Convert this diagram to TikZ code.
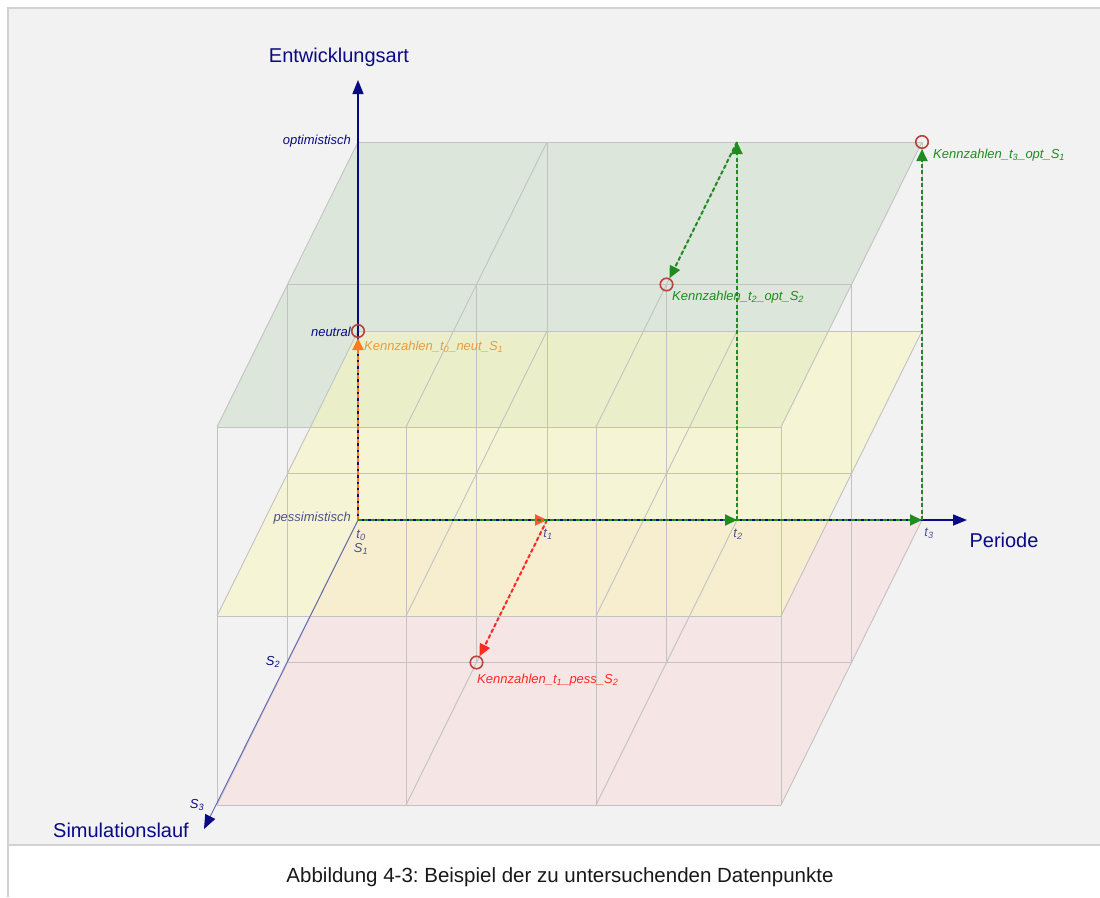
\documentclass[tikz,border=0pt]{standalone}
\usepackage{fontspec}
\setmainfont{Liberation Sans}
\frenchspacing
\usetikzlibrary{arrows.meta}
\definecolor{panelgray}{HTML}{F2F2F2}
\definecolor{framegray}{HTML}{D2D2D2}
\definecolor{wire}{HTML}{C2C2C2}
\definecolor{axisnavy}{HTML}{0A0A84}
\definecolor{slate}{HTML}{50508F}
\definecolor{saxisblue}{HTML}{6565B0}
\definecolor{kgreen}{HTML}{1E8C1E}
\definecolor{korange}{HTML}{FF7A1A}
\definecolor{korangetext}{HTML}{EE9A38}
\definecolor{kred}{HTML}{FF2A22}
\definecolor{kredorange}{HTML}{FF5530}
\definecolor{ringred}{HTML}{B8433C}
\definecolor{planegreen}{HTML}{C8DCC6}
\definecolor{planeyellow}{HTML}{F8F8BA}
\definecolor{planepink}{HTML}{F8DADA}
\begin{document}
\begin{tikzpicture}[x=1pt,y=-1pt,
  gridline/.style={draw=wire,line width=0.9pt},
  plane/.style={fill=#1,fill opacity=0.5},
  axisline/.style={draw=axisnavy,line width=1.4pt,-{Triangle[length=14pt,width=11pt]}},
  simaxis/.style={draw=saxisblue,line width=0.9pt,-{Triangle[length=14pt,width=11pt,color=axisnavy]}},
  dpath/.style={draw=#1,line width=2pt,dash pattern=on 4pt off 2.4pt,-{Triangle[length=12pt,width=11pt]}},
  datapoint/.style={circle,draw=ringred,line width=1.6pt,minimum size=12.5pt,inner sep=0pt},
  axistitle/.style={text=axisnavy,inner sep=0pt,font=\fontsize{20}{24}\selectfont},
  levellabel/.style={text=#1,inner sep=0pt,anchor=east,font=\fontsize{13}{15}\selectfont\itshape},
  ticklabel/.style={text=#1,inner sep=0pt,font=\fontsize{13}{15}\selectfont\itshape},
  kzlabel/.style={text=#1,inner sep=0pt,anchor=west,font=\fontsize{13}{15}\selectfont\itshape},
  caption/.style={text=black!90,inner sep=0pt,font=\fontsize{20.5}{24}\selectfont}
]
\useasboundingbox (0,0) rectangle (1100,897);
% page and panel
\fill[white] (0,0) rectangle (1100,897);
\fill[panelgray] (8,8) rectangle (1100,845);
\draw[framegray,line width=1.5pt] (8,897) -- (8,8) -- (1100,8);
\draw[framegray,line width=1.5pt] (8,845) -- (1100,845);

% lattice points: i = period, j = run, k = level
\foreach \i/\x in {0/358,1/547,2/737,3/922}
  \foreach \j in {0,1,2}
    \foreach \k in {0,1,2}
      \coordinate (g\i\j\k) at ({\x-70.5*\j},{520+142.5*\j-189*\k});

% level planes
\fill[plane=planepink]   (g000) -- (g300) -- (g320) -- (g020) -- cycle;
\fill[plane=planegreen]  (g002) -- (g302) -- (g322) -- (g022) -- cycle;
\fill[plane=planeyellow] (g001) -- (g301) -- (g321) -- (g021) -- cycle;

% wireframe
\foreach \i in {0,...,3}
  \foreach \j in {0,1,2}
    \draw[gridline] (g\i\j0) -- (g\i\j2);
\foreach \j in {0,1,2}
  \foreach \k in {0,1,2}
    \draw[gridline] (g0\j\k) -- (g3\j\k);
\foreach \i in {0,...,3}
  \foreach \k in {0,1,2}
    \draw[gridline] (g\i0\k) -- (g\i2\k);

% axes
\coordinate (ytip) at (358,80);
\coordinate (xtip) at (967,520);
\coordinate (stip) at (204,829);
\draw[axisline] (g000) -- (ytip);
\draw[axisline] (g000) -- (xtip);
\draw[simaxis] (g000) -- (stip);

% data points
\node[datapoint] (d3) at (g302) {};
\node[datapoint] (d2) at (g212) {};
\node[datapoint] (d0) at (g001) {};
\node[datapoint] (d1) at (g110) {};

% paths to the data points
\draw[dpath=korange] (g000) -- (d0);
\draw[dpath=kredorange] (g000) -- (g100);
\draw[dpath=kred] (g100) -- (d1);
\draw[dpath=kgreen] (g000) -- (g300);
\draw[dpath=kgreen] (g300) -- (d3);
\draw[dpath=kgreen] (g000) -- (g200);
\draw[dpath=kgreen] (g200) -- (g202);
\draw[dpath=kgreen] (g202) -- (d2);

% axis titles
\node[axistitle] (tE) at (339,57) {Entwicklungsart};
\node[axistitle] (tP) at (1004,540) {Periode};
\node[axistitle] (tS) at (121,830) {Simulationslauf};

% level labels
\node[levellabel=axisnavy] (lo) at (351,141) {optimistisch};
\node[levellabel=axisnavy] (ln) at (351,332) {neutral};
\node[levellabel=slate] (lp) at (351,518) {pessimistisch};

% tick labels
\node[ticklabel=slate] (t0) at (361,535) {t\textsubscript{0}};
\node[ticklabel=slate] (s1) at (361,549) {S\textsubscript{1}};
\node[ticklabel=slate] (t1) at (548,534) {t\textsubscript{1}};
\node[ticklabel=slate] (t2) at (738,534) {t\textsubscript{2}};
\node[ticklabel=slate] (t3) at (929,533) {t\textsubscript{3}};
\node[ticklabel=axisnavy] (s2) at (273,662) {S\textsubscript{2}};
\node[ticklabel=axisnavy] (s3) at (197,805) {S\textsubscript{3}};

% data point labels
\node[kzlabel=kgreen] (k3) at (933,155) {Kennzahlen\_t\textsubscript{3}\_opt\_S\textsubscript{1}};
\node[kzlabel=kgreen] (k2) at (672,297) {Kennzahlen\_t\textsubscript{2}\_opt\_S\textsubscript{2}};
\node[kzlabel=korangetext] (k0) at (364,347) {Kennzahlen\_t\textsubscript{0}\_neut\_S\textsubscript{1}};
\node[kzlabel=kred] (k1) at (477,680) {Kennzahlen\_t\textsubscript{1}\_pess\_S\textsubscript{2}};

% caption
\node[caption] (cap) at (560,877) {Abbildung 4-3: Beispiel der zu untersuchenden Datenpunkte};
\end{tikzpicture}
\end{document}
